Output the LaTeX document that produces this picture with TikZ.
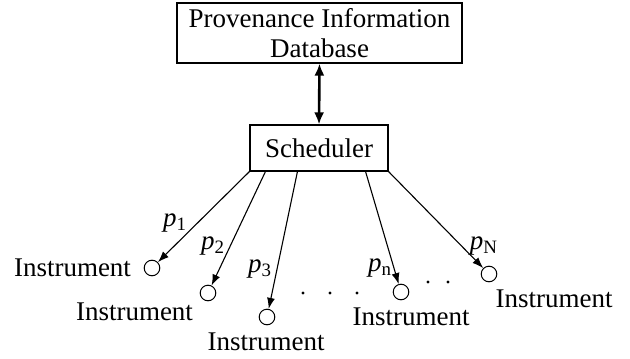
\documentclass[tikz,border=0pt]{standalone}
\usepackage{fontspec}
\setmainfont{Liberation Serif}
\usetikzlibrary{arrows.meta,calc}
\newcommand{\plab}[1]{\textit{p}\textsubscript{#1}}
\begin{document}
\begin{tikzpicture}[x=0.5pt,y=-0.5pt,
  every node/.style={font=\fontsize{13.5}{15}\selectfont, inner sep=0pt},
  box/.style={draw, line width=0.55pt, align=center},
  inst/.style={draw, circle, line width=0.5pt, minimum size=7.8pt},
  conn/.style={line width=0.55pt, -{Latex[length=5.5pt,width=4pt]}},
  dbl/.style={line width=1.3pt, {Latex[length=6pt,width=5pt]}-{Latex[length=6pt,width=5pt]}},
  dotm/.style={circle, fill, minimum size=1.6pt}]
\useasboundingbox (0,0) rectangle (630,358);
% boxes
\node[box, minimum width=142.5pt, minimum height=30pt] (db) at (319.5,33)
  {Provenance Information\\[0.3pt]Database};
\node[box, minimum width=69pt, minimum height=23pt] (sched) at (319,148) {Scheduler};
\draw[dbl] (db.south) -- (sched.north);
% instruments
\node[inst] (c1) at (152,268) {};
\node[inst] (c2) at (208,293) {};
\node[inst] (c3) at (267,317) {};
\node[inst] (cn) at (401,292) {};
\node[inst] (cN) at (489,274) {};
% start points on scheduler
\coordinate (s1) at (sched.south west);
\coordinate (s2) at ($(sched.south west)+(16,0)$);
\coordinate (s3) at ($(sched.south west)+(48,0)$);
\coordinate (sn) at ($(sched.south east)+(-23,0)$);
\coordinate (sN) at (sched.south east);
\draw[conn] (s1) -- (c1);
\draw[conn] (s2) -- (c2);
\draw[conn] (s3) -- (c3);
\draw[conn] (sn) -- (cn);
\draw[conn] (sN) -- (cN);
% labels
\node (l1) at (72.5,268) {Instrument};
\node (l2) at (134.5,312) {Instrument};
\node (l3) at (266,342) {Instrument};
\node (ln) at (411,317) {Instrument};
\node (lN) at (554,299) {Instrument};
\node (p1) at (175,223) {\plab{1}};
\node (p2) at (213,246) {\plab{2}};
\node (p3) at (260,269) {\plab{3}};
\node (pn) at (380,268) {\plab{n}};
\node (pN) at (484,246) {\plab{N}};
% dots
\node[dotm] (d1) at (303,293) {};
\node[dotm] (d2) at (330,293) {};
\node[dotm] (d3) at (357,293) {};
\node[dotm] (d4) at (428,282) {};
\node[dotm] (d5) at (448,282) {};
\end{tikzpicture}
\end{document}
